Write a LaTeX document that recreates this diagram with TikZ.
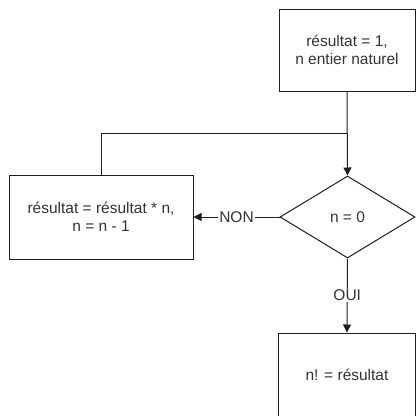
\documentclass[tikz,border=0pt]{standalone}
\usepackage{fontspec}
\setmainfont{Liberation Sans}
\usetikzlibrary{shapes.geometric,arrows.meta}
\definecolor{ink}{HTML}{1E1E1E}
\definecolor{txt}{HTML}{333333}
\tikzset{
  box/.style={draw=ink, line width=1pt, rectangle, inner sep=0pt, align=center,
              font=\fontsize{15.5}{18.5}\selectfont, text=txt},
  test/.style={draw=ink, line width=1pt, diamond, inner sep=0pt, align=center,
               font=\fontsize{15.5}{18.5}\selectfont, text=txt},
  flow/.style={draw=ink, line width=1pt, -{Triangle[length=8pt,width=8pt]}},
  tag/.style={fill=white, inner sep=1pt, font=\fontsize{15.5}{18.5}\selectfont, text=txt}
}
\begin{document}
\begin{tikzpicture}[x=1pt,y=-1pt]
  \useasboundingbox (0,0) rectangle (416,416);
  \clip (0,0) rectangle (416,416);
  % blocks of the factorial flowchart
  \node[box, minimum width=136pt, minimum height=82pt] (init) at (347,50)
    {résultat = 1,\\n entier naturel};
  \node[test, minimum width=135pt, minimum height=82pt] (cond) at (347.5,217) {n = 0};
  \node[box, minimum width=184pt, minimum height=84pt] (loop) at (101,217)
    {résultat = résultat * n,\\n = n - 1};
  \node[box, minimum width=137pt, minimum height=84pt] (done) at (347,375)
    {n! = résultat};
  % junction where the loop returns
  \coordinate (join) at (347,133);
  % connectors
  \draw[flow] (init.south) -- (cond.north);
  \draw[draw=ink, line width=1pt] (loop.north) |- (join);
  \draw[flow] (cond.west) -- node[tag] {NON} (loop.east);
  \draw[flow] (cond.south) -- node[tag] {OUI} (done.north);
\end{tikzpicture}
\end{document}
